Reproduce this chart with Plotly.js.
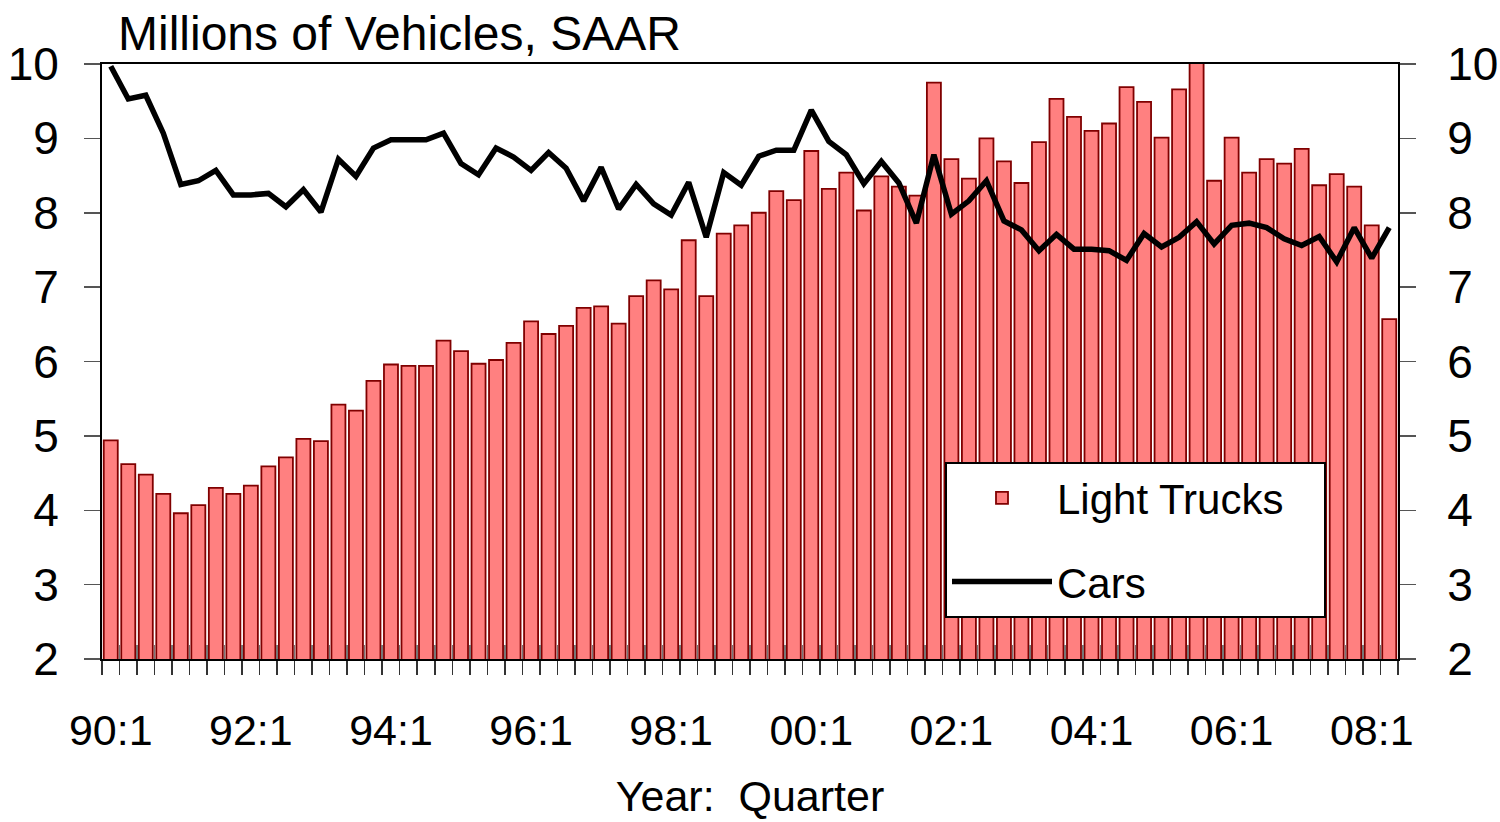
<!DOCTYPE html>
<html>
<head>
<meta charset="utf-8">
<script src="https://cdn.plot.ly/plotly-3.0.1.min.js"></script>
<style>html,body{margin:0;padding:0;background:#fff;}#chart{width:1500px;height:822px;}</style>
</head>
<body>
<div id="chart"></div>
<script>
var quarters = ["90:1","90:2","90:3","90:4","91:1","91:2","91:3","91:4","92:1","92:2","92:3","92:4",
"93:1","93:2","93:3","93:4","94:1","94:2","94:3","94:4","95:1","95:2","95:3","95:4",
"96:1","96:2","96:3","96:4","97:1","97:2","97:3","97:4","98:1","98:2","98:3","98:4",
"99:1","99:2","99:3","99:4","00:1","00:2","00:3","00:4","01:1","01:2","01:3","01:4",
"02:1","02:2","02:3","02:4","03:1","03:2","03:3","03:4","04:1","04:2","04:3","04:4",
"05:1","05:2","05:3","05:4","06:1","06:2","06:3","06:4","07:1","07:2","07:3","07:4",
"08:1","08:2"];

var lightTrucks = [4.94,4.62,4.48,4.22,3.96,4.07,4.30,4.22,4.33,4.59,
4.71,4.96,4.93,5.42,5.34,5.74,5.96,5.94,5.94,6.28,
6.14,5.97,6.02,6.25,6.54,6.37,6.48,6.72,6.74,6.51,
6.88,7.09,6.97,7.63,6.88,7.72,7.83,8.00,8.29,8.17,
8.83,8.32,8.54,8.03,8.49,8.35,8.23,9.75,8.72,8.46,
9.00,8.69,8.40,8.95,9.53,9.29,9.10,9.20,9.69,9.49,
9.01,9.66,10.06,8.43,9.01,8.54,8.72,8.66,8.86,8.37,
8.52,8.35,7.83,6.57];

var cars = [9.97,9.53,9.58,9.07,8.38,8.43,8.57,8.24,8.24,8.26,
8.08,8.31,8.01,8.72,8.49,8.87,8.98,8.98,8.98,9.07,
8.66,8.51,8.87,8.75,8.57,8.81,8.60,8.16,8.61,8.05,
8.38,8.12,7.97,8.41,7.67,8.54,8.37,8.76,8.84,8.84,
9.38,8.96,8.78,8.39,8.69,8.40,7.86,8.78,7.98,8.16,
8.43,7.89,7.77,7.49,7.71,7.51,7.51,7.49,7.36,7.72,
7.54,7.67,7.88,7.58,7.83,7.86,7.80,7.65,7.56,7.68,
7.34,7.80,7.39,7.80];

var tickLabels = ["90:1","92:1","94:1","96:1","98:1","00:1","02:1","04:1","06:1","08:1"];
var yTicks = [2,3,4,5,6,7,8,9,10];

var tickText = quarters.map(function(q){ return tickLabels.indexOf(q) >= 0 ? q : ""; });

var FONT = "Liberation Sans, Arial, Helvetica, sans-serif";
var PAD = "\u00A0\u00A0\u00A0";

var traces = [
  {
    type: "bar", name: "Light Trucks" + PAD, x: quarters, y: lightTrucks,
    marker: {color: "#FF8080", line: {color: "#800000", width: 1.8}},
    cliponaxis: false, legendgroup: "a", hoverinfo: "x+y"
  },
  {
    type: "scatter", mode: "lines", name: "Cars", x: quarters, y: cars,
    xaxis: "x2", yaxis: "y2",
    line: {color: "#000000", width: 5.5}, legendgroup: "b", cliponaxis: false
  }
];

var layout = {
  width: 1500, height: 822,
  margin: {l: 102, r: 102, t: 64, b: 163},
  paper_bgcolor: "#ffffff", plot_bgcolor: "#ffffff",
  font: {family: FONT, color: "#000000", size: 44},
  showlegend: true,
  bargap: 0.2,
  title: {text: "Millions of Vehicles, SAAR", font: {family: FONT, size: 48, color: "#000"},
          x: 118/1500, xanchor: "left", xref: "container", y: 1 - 33/822, yanchor: "middle", yref: "container"},
  xaxis: {
    type: "category", range: [-0.5, quarters.length - 0.5],
    tickmode: "array", tickvals: quarters, ticktext: tickText,
    tickson: "boundaries", ticks: "outside", ticklen: 14, tickwidth: 1.5, tickcolor: "#333",
    showline: true, linecolor: "#000", linewidth: 2, mirror: true,
    showgrid: false, zeroline: false,
    tickfont: {family: FONT, size: 43, color: "#000"},
    tickangle: 0,
    ticklabelstandoff: 32,
    title: {text: "Year:\u00A0 Quarter", font: {family: FONT, size: 43, color: "#000"}, standoff: 28}
  },
  xaxis2: {
    type: "category", overlaying: "x", range: [-0.5, quarters.length - 0.5],
    tickmode: "array", tickvals: quarters, ticktext: tickText,
    tickson: "boundaries", ticks: "inside", ticklen: 14, tickwidth: 1.5, tickcolor: "#777",
    showticklabels: false, showline: false, showgrid: false, zeroline: false, side: "bottom"
  },
  yaxis: {
    range: [2, 10], tickmode: "array", tickvals: yTicks, ticktext: yTicks.map(String),
    ticks: "outside", ticklen: 16, tickwidth: 1.5, tickcolor: "#555",
    showline: true, linecolor: "#000", linewidth: 2,
    showgrid: false, zeroline: false,
    tickfont: {family: FONT, size: 46, color: "#000"},
    ticklabelstandoff: 16
  },
  yaxis2: {
    range: [2, 10], overlaying: "y", side: "right", anchor: "x2",
    tickmode: "array", tickvals: yTicks, ticktext: yTicks.map(String),
    ticks: "outside", ticklen: 16, tickwidth: 1.5, tickcolor: "#555",
    showline: true, linecolor: "#000", linewidth: 2,
    showgrid: false, zeroline: false,
    tickfont: {family: FONT, size: 46, color: "#000"},
    ticklabelstandoff: 22
  },
  legend: {
    x: (945 - 102) / 1296, y: 1 - (462 - 64) / 595, xanchor: "left", yanchor: "top",
    bgcolor: "#ffffff", bordercolor: "#000000", borderwidth: 2,
    font: {family: FONT, size: 42, color: "#000"},
    traceorder: "grouped", tracegroupgap: 26,
    itemwidth: 100
  }
};

Plotly.newPlot("chart", traces, layout, {displayModeBar: false, staticPlot: true});
</script>
</body>
</html>
